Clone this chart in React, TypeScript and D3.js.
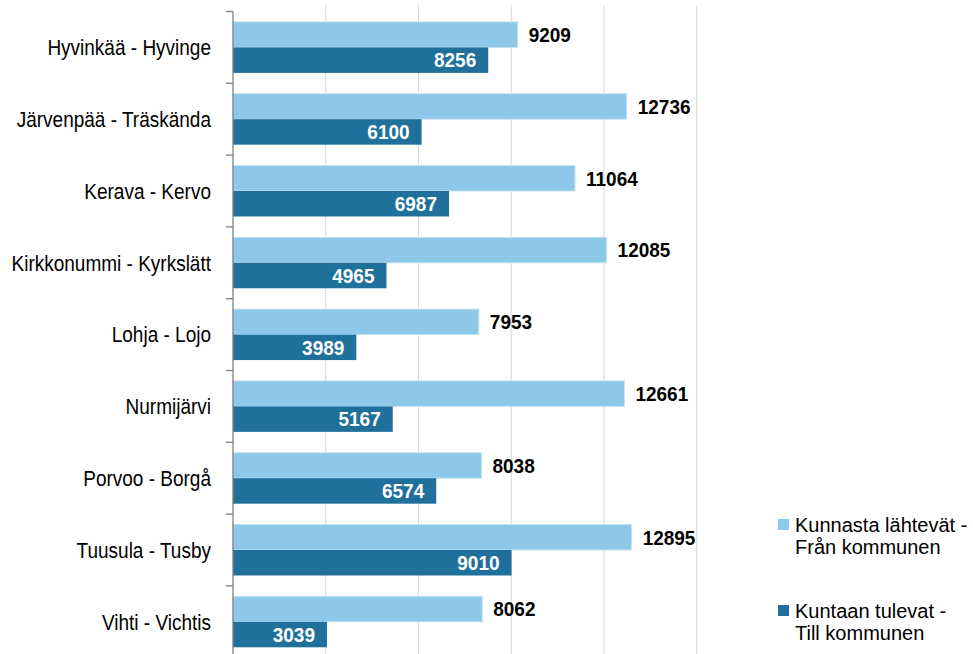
import { useEffect, useRef } from "react";
import * as d3 from "d3";

// municipalities, top to bottom
const categories = [
  "Hyvinkää - Hyvinge",
  "Järvenpää - Träskända",
  "Kerava - Kervo",
  "Kirkkonummi - Kyrkslätt",
  "Lohja - Lojo",
  "Nurmijärvi",
  "Porvoo - Borgå",
  "Tuusula - Tusby",
  "Vihti - Vichtis",
];

const outgoing = [9209, 12736, 11064, 12085, 7953, 12661, 8038, 12895, 8062];
const incoming = [8256, 6100, 6987, 4965, 3989, 5167, 6574, 9010, 3039];

const gridTicks = [0, 3000, 6000, 9000, 12000, 15000];

const seriesNames = [
  ["Kunnasta lähtevät -", "Från kommunen"],
  ["Kuntaan tulevat -", "Till kommunen"],
];

const colors = ["#8ec8e8", "#20709c"];
const FONT = "'Liberation Sans', Arial, sans-serif";

export default function App() {
  const svgRef = useRef<SVGSVGElement>(null);

  useEffect(() => {
    document.body.style.margin = "0";
    if (!svgRef.current) return;
    const width = 973;
    const height = 654;
    const margin = { top: 11.5, left: 233 };
    const step = 71.8;

    const svg = d3.select(svgRef.current);
    svg.selectAll("*").remove();
    svg.attr("width", width).attr("height", height);

    const x = d3.scaleLinear().domain([0, 15000]).range([margin.left, 696.7]);
    const y = d3.scaleBand()
      .domain(categories)
      .range([margin.top, margin.top + step * categories.length])
      .paddingInner(0.29)
      .paddingOuter(0.145);
    const sub = d3.scaleBand().domain(["out", "in"]).range([0, y.bandwidth()]);

    // gridlines
    svg.selectAll("line.grid")
      .data(gridTicks.slice(1))
      .join("line")
      .attr("class", "grid")
      .attr("x1", (d) => x(d))
      .attr("x2", (d) => x(d))
      .attr("y1", 5)
      .attr("y2", height)
      .attr("stroke", "#d6d6d6")
      .attr("stroke-width", 1);

    const rows = svg.selectAll("g.row")
      .data(categories)
      .join("g")
      .attr("class", "row");

    // outgoing bars (light)
    rows.append("rect")
      .attr("x", x(0))
      .attr("y", (d) => (y(d) || 0) + (sub("out") || 0))
      .attr("width", (_, i) => x(outgoing[i]) - x(0))
      .attr("height", sub.bandwidth())
      .attr("fill", colors[0])
      .attr("stroke", "#c4e3f4")
      .attr("stroke-width", 1);

    // incoming bars (dark)
    rows.append("rect")
      .attr("x", x(0))
      .attr("y", (d) => (y(d) || 0) + (sub("in") || 0))
      .attr("width", (_, i) => x(incoming[i]) - x(0))
      .attr("height", sub.bandwidth())
      .attr("fill", colors[1]);

    rows.append("text")
      .attr("transform", (d, i) =>
        `translate(${x(outgoing[i]) + 11},${(y(d) || 0) + (sub("out") || 0) + sub.bandwidth() / 2}) scale(1,1.06)`)
      .attr("dy", "0.36em")
      .attr("font-family", FONT)
      .attr("font-weight", "bold")
      .attr("font-size", 19)
      .attr("fill", "#000")
      .text((_, i) => outgoing[i]);

    rows.append("text")
      .attr("transform", (d, i) =>
        `translate(${x(incoming[i]) - 12},${(y(d) || 0) + (sub("in") || 0) + sub.bandwidth() / 2}) scale(1,1.06)`)
      .attr("dy", "0.36em")
      .attr("text-anchor", "end")
      .attr("font-family", FONT)
      .attr("font-weight", "bold")
      .attr("font-size", 19)
      .attr("fill", "#fff")
      .text((_, i) => incoming[i]);

    // category labels (slightly taller than wide, like the source)
    rows.append("text")
      .attr("transform", (d) => `translate(211,${(y(d) || 0) + y.bandwidth() / 2}) scale(1,1.13)`)
      .attr("dy", "0.36em")
      .attr("text-anchor", "end")
      .attr("font-family", FONT)
      .attr("font-size", 19)
      .attr("fill", "#000")
      .text((d) => d);

    // category axis
    svg.append("line")
      .attr("x1", margin.left)
      .attr("x2", margin.left)
      .attr("y1", margin.top)
      .attr("y2", height)
      .attr("stroke", "#7f7f7f")
      .attr("stroke-width", 1.3);

    const tickYs = d3.range(categories.length + 1).map((i) => margin.top + i * step);
    svg.selectAll("line.tick")
      .data(tickYs)
      .join("line")
      .attr("class", "tick")
      .attr("x1", margin.left - 7)
      .attr("x2", margin.left)
      .attr("y1", (d) => d)
      .attr("y2", (d) => d)
      .attr("stroke", "#7f7f7f")
      .attr("stroke-width", 1.3);

    // legend
    const legendY = [519, 605];
    const lg = svg.selectAll("g.legend")
      .data(seriesNames)
      .join("g")
      .attr("class", "legend")
      .attr("transform", (_, i) => `translate(778,${legendY[i]})`);

    lg.append("rect")
      .attr("width", 11)
      .attr("height", 11)
      .attr("fill", (_, i) => colors[i]);

    lg.each(function (lines) {
      const t = d3.select(this).append("text")
        .attr("font-family", FONT)
        .attr("font-size", 20)
        .attr("fill", "#000");
      lines.forEach((line, j) => {
        t.append("tspan")
          .attr("x", 17)
          .attr("y", 12.5 + j * 22.5)
          .text(line);
      });
    });
  }, []);

  return (
    <div style={{ position: "absolute", left: 0, top: 0 }}>
      <svg ref={svgRef} style={{ display: "block" }} />
    </div>
  );
}
